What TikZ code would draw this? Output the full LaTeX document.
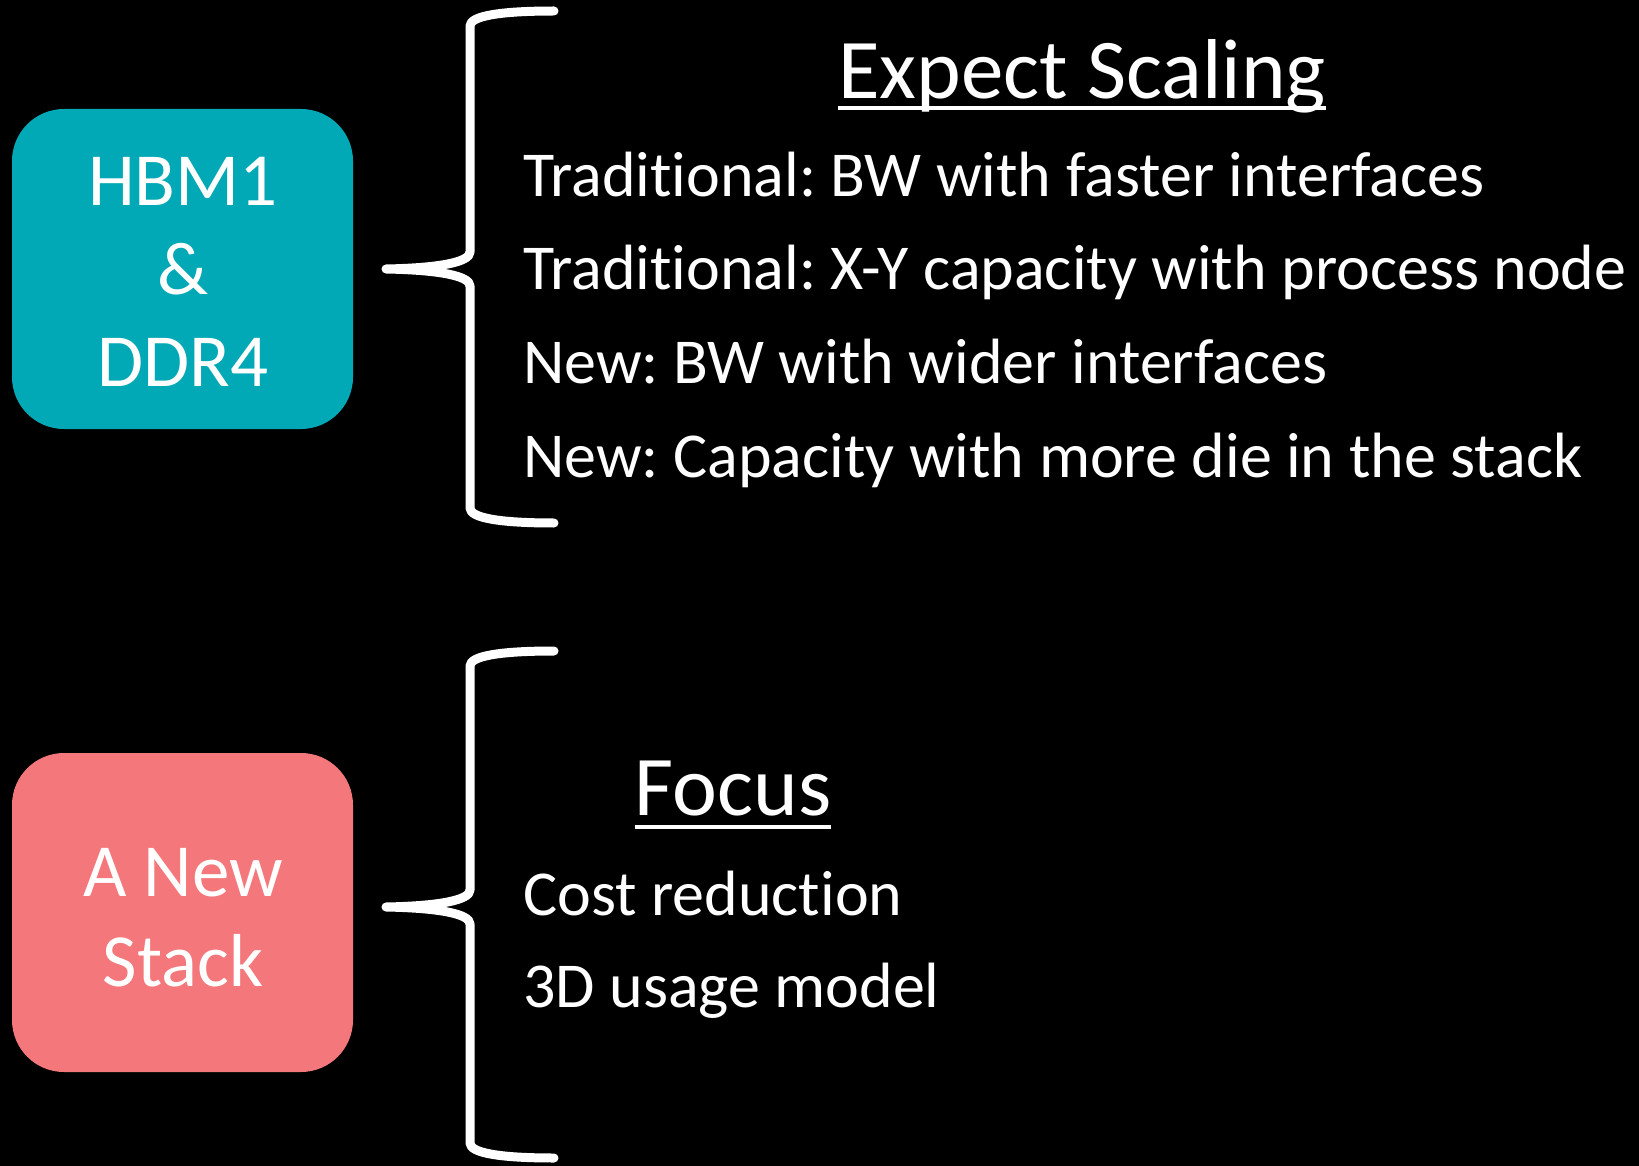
\documentclass[tikz,border=0pt]{standalone}
\usepackage{fontspec}
\setmainfont{Carlito}[Ligatures={NoCommon}]
\usetikzlibrary{calc}
\definecolor{teal1}{RGB}{0,169,181}
\definecolor{pink1}{RGB}{244,120,123}
\tikzset{
  box/.style={rounded corners=52pt, inner sep=0pt},
  brace/.style={draw=white, line width=9pt, line cap=round, line join=round},
  item/.style={text=white, anchor=base west, inner sep=0pt, font=\fontsize{64}{78}\selectfont},
  head/.style={text=white, anchor=base, inner sep=0pt, font=\fontsize{85}{100}\selectfont},
  boxtxt/.style={text=white, anchor=base, inner sep=0pt, font=\fontsize{75}{90}\selectfont},
  uline/.style={draw=white, line width=4.5pt}
}
\newcommand{\mybrace}[3]{%
  \draw[brace] (554,#1) .. controls (500,#1) and (470,#1+5) .. (470,#1+15)
    -- (470,#2-17) .. controls (470,#2-7) and (440,#2-1) .. (386,#2)
    .. controls (440,#2+1) and (470,#2+7) .. (470,#2+17)
    -- (470,#3-15) .. controls (470,#3-5) and (500,#3) .. (554,#3);}
\frenchspacing
\begin{document}
\begin{tikzpicture}[x=1pt,y=-1pt]
\fill[black] (0,0) rectangle (1639,1166);
\useasboundingbox (0,0) rectangle (1639,1166);
% boxes
\fill[teal1, box] (12,109) rectangle (353,429);
\fill[pink1, box] (12,753) rectangle (353,1072);
\node[boxtxt] (b1) at (183,206) {HBM1};
\node[boxtxt] (b2) at (183,295) {\&};
\node[boxtxt] (b3) at (183,386) {DDR4};
\node[boxtxt] (c1) at (183,896) {A New};
\node[boxtxt] (c2) at (183,986) {Stack};
% braces
\mybrace{11}{269}{523}
\mybrace{651}{907}{1158}
% headings
\node[head] (h1) at (1082,99) {Expect Scaling};
\draw[uline] ($(h1.base west)+(0,9)$) -- ($(h1.base east)+(0,9)$);
\node[head] (h2) at (733,815) {Focus};
\draw[uline] ($(h2.base west)+(0,12)$) -- ($(h2.base east)+(0,12)$);
% items
\node[item] (i1) at (523,197) {Traditional: BW with faster interfaces};
\node[item] (i2) at (523,290) {Traditional: X-Y capacity with process node};
\node[item] (i3) at (523,384) {New: BW with wider interfaces};
\node[item] (i4) at (523,477) {New: Capacity with more die in the stack};
\node[item] (j1) at (523,915) {Cost reduction};
\node[item] (j2) at (523,1007) {3D usage model};
\end{tikzpicture}
\end{document}
